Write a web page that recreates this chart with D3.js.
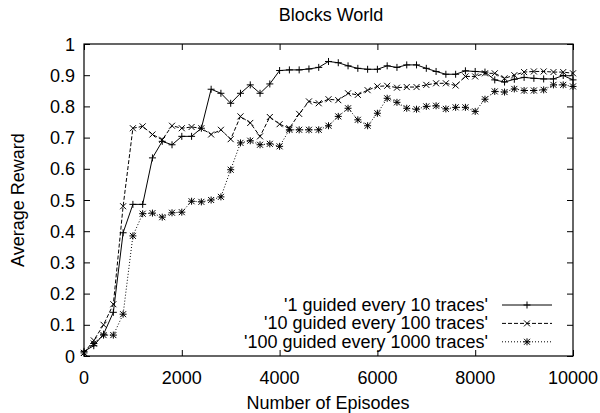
<!DOCTYPE html>
<html>
<head>
<meta charset="utf-8">
<script src="https://cdn.jsdelivr.net/npm/d3@7"></script>
<style>
  body { margin: 0; background: #fff; }
  svg text { font-family: "Liberation Sans", Arial, sans-serif; font-size: 18px; fill: #000; }
</style>
</head>
<body>
<div id="canvas"></div>
<script>
// episodes sampled every 200
const episodes = [0, 200, 400, 600, 800, 1000, 1200, 1400, 1600, 1800,
    2000, 2200, 2400, 2600, 2800, 3000, 3200, 3400, 3600, 3800,
    4000, 4200, 4400, 4600, 4800, 5000, 5200, 5400, 5600, 5800,
    6000, 6200, 6400, 6600, 6800, 7000, 7200, 7400, 7600, 7800,
    8000, 8200, 8400, 8600, 8800, 9000, 9200, 9400, 9600, 9800, 10000];

const every10 = [0.015, 0.033, 0.07, 0.14, 0.395, 0.486, 0.486, 0.635, 0.688, 0.677,
    0.704, 0.704, 0.73, 0.855, 0.842, 0.81, 0.842, 0.869, 0.842, 0.872,
    0.915, 0.917, 0.917, 0.92, 0.925, 0.944, 0.94, 0.93, 0.922, 0.919,
    0.919, 0.93, 0.925, 0.933, 0.933, 0.922, 0.912, 0.903, 0.903, 0.914,
    0.912, 0.91, 0.885, 0.878, 0.887, 0.893, 0.89, 0.888, 0.888, 0.899, 0.885];

const every100 = [0.01, 0.05, 0.10, 0.166, 0.48, 0.73, 0.736, 0.71, 0.693, 0.738,
    0.73, 0.734, 0.73, 0.71, 0.725, 0.695, 0.768, 0.747, 0.704, 0.766,
    0.743, 0.73, 0.776, 0.816, 0.81, 0.823, 0.82, 0.842, 0.837, 0.852,
    0.864, 0.866, 0.86, 0.862, 0.862, 0.869, 0.874, 0.874, 0.867, 0.896,
    0.896, 0.906, 0.906, 0.89, 0.90, 0.91, 0.912, 0.912, 0.91, 0.91, 0.906];

const every1000 = [0.01, 0.04, 0.067, 0.067, 0.134, 0.385, 0.456, 0.458, 0.445, 0.459,
    0.461, 0.496, 0.494, 0.50, 0.51, 0.597, 0.683, 0.69, 0.677, 0.68,
    0.672, 0.725, 0.725, 0.725, 0.725, 0.738, 0.768, 0.794, 0.757, 0.738,
    0.778, 0.826, 0.813, 0.794, 0.791, 0.80, 0.802, 0.792, 0.797, 0.797,
    0.784, 0.823, 0.848, 0.846, 0.856, 0.851, 0.851, 0.853, 0.869, 0.869, 0.864];

const seriesNames = ["'1 guided every 10 traces'", "'10 guided every 100 traces'", "'100 guided every 1000 traces'"];
const xTicks = [0, 2000, 4000, 6000, 8000, 10000];
const yTicks = [0, 0.1, 0.2, 0.3, 0.4, 0.5, 0.6, 0.7, 0.8, 0.9, 1];

const margin = {top: 44, right: 27, bottom: 57, left: 84},
    width = 600 - margin.left - margin.right,
    height = 413 - margin.top - margin.bottom;

const root = d3.select("#canvas")
    .append("svg")
    .attr("width", 600)
    .attr("height", 413);

const svg = root.append("g")
    .attr("transform", "translate(" + margin.left + "," + margin.top + ")");

const xScale = d3.scaleLinear().domain([0, 10000]).range([0, width]);
const yScale = d3.scaleLinear().domain([0, 1]).range([height, 0]);

// ticks inside on all four sides, gnuplot style
const tickLen = 6;
svg.append("g").call(d3.axisBottom(xScale).tickValues(xTicks).tickSize(0).tickFormat(""))
    .attr("transform", "translate(0," + height + ")")
    .call(g => g.select(".domain").remove())
    .call(g => g.selectAll(".tick line").attr("y2", -tickLen).attr("stroke", "#000"));
svg.append("g").call(d3.axisTop(xScale).tickValues(xTicks).tickSize(0).tickFormat(""))
    .call(g => g.select(".domain").remove())
    .call(g => g.selectAll(".tick line").attr("y2", tickLen).attr("stroke", "#000"));
svg.append("g").call(d3.axisLeft(yScale).tickValues(yTicks).tickSize(0).tickFormat(""))
    .call(g => g.select(".domain").remove())
    .call(g => g.selectAll(".tick line").attr("x2", tickLen).attr("stroke", "#000"));
svg.append("g").call(d3.axisRight(yScale).tickValues(yTicks).tickSize(0).tickFormat(""))
    .attr("transform", "translate(" + width + ",0)")
    .call(g => g.select(".domain").remove())
    .call(g => g.selectAll(".tick line").attr("x2", -tickLen).attr("stroke", "#000"));

// tick labels
svg.selectAll(".xlab")
    .data(xTicks)
    .enter()
    .append("text")
    .attr("x", d => xScale(d))
    .attr("y", height + 28)
    .attr("text-anchor", "middle")
    .text(d => d);

svg.selectAll(".ylab")
    .data(yTicks)
    .enter()
    .append("text")
    .attr("x", -9)
    .attr("y", d => yScale(d) + 6.5)
    .attr("text-anchor", "end")
    .text(d => d);

// frame
svg.append("rect")
    .attr("width", width)
    .attr("height", height)
    .attr("fill", "none")
    .attr("stroke", "#000")
    .attr("stroke-width", 1.2);

root.append("text")
    .attr("x", 331)
    .attr("y", 21)
    .attr("text-anchor", "middle")
    .text("Blocks World");

root.append("text")
    .attr("x", 328)
    .attr("y", 409)
    .attr("text-anchor", "middle")
    .text("Number of Episodes");

root.append("text")
    .attr("transform", "translate(24," + (margin.top + height / 2) + ") rotate(-90)")
    .attr("text-anchor", "middle")
    .text("Average Reward");

const plusPath = "M-3.5,0H3.5M0,-3.5V3.5";
const crossPath = "M-3,-3L3,3M-3,3L3,-3";
const starPath = plusPath + crossPath;

const series = [
    {name: seriesNames[0], values: every10, dash: null, marker: plusPath},
    {name: seriesNames[1], values: every100, dash: "4,2", marker: crossPath},
    {name: seriesNames[2], values: every1000, dash: "1,2", marker: starPath}
];

const line = d3.line()
    .x((d, i) => xScale(episodes[i]))
    .y(d => yScale(d));

series.forEach((s, k) => {
    svg.append("path")
        .datum(s.values)
        .attr("d", line)
        .attr("fill", "none")
        .attr("stroke", "#000")
        .attr("stroke-width", 1)
        .attr("stroke-dasharray", s.dash);

    svg.selectAll(null)
        .data(s.values)
        .enter()
        .append("path")
        .attr("transform", (d, i) => "translate(" + xScale(episodes[i]) + "," + yScale(d) + ")")
        .attr("d", s.marker)
        .attr("stroke", "#000")
        .attr("stroke-width", 1)
        .attr("fill", "none");

    // legend entry
    const ly = 305 + k * 18.4 - margin.top;
    const lx1 = 502 - margin.left, lx2 = 552 - margin.left;
    svg.append("text")
        .attr("x", 488 - margin.left)
        .attr("y", ly + 6)
        .attr("text-anchor", "end")
        .text(s.name);
    svg.append("line")
        .attr("x1", lx1).attr("x2", lx2)
        .attr("y1", ly).attr("y2", ly)
        .attr("stroke", "#000")
        .attr("stroke-dasharray", s.dash);
    svg.append("path")
        .attr("transform", "translate(" + ((lx1 + lx2) / 2) + "," + ly + ")")
        .attr("d", s.marker)
        .attr("stroke", "#000")
        .attr("fill", "none");
});
</script>
</body>
</html>
